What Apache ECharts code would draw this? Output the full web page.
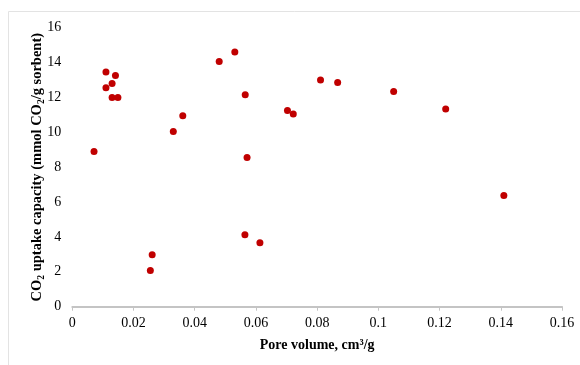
<!DOCTYPE html>
<html>
<head>
<meta charset="utf-8">
<script src="https://cdn.jsdelivr.net/npm/echarts@6/dist/echarts.min.js"></script>
<style>
html,body{margin:0;padding:0;background:#fff;}
#chart{width:580px;height:365px;}
</style>
</head>
<body>
<div id="chart"></div>
<script>
// Pore volume (cm3/g)
var poreVolume = [0.0071, 0.0110, 0.0110, 0.0130, 0.0141, 0.0130, 0.0149, 0.0330, 0.0361, 0.0255, 0.0261,
  0.0480, 0.0531, 0.0565, 0.0703, 0.0722, 0.0571, 0.0811, 0.0867, 0.1050, 0.1220, 0.0564, 0.0613, 0.1410];
// CO2 uptake capacity (mmol CO2/g sorbent)
var uptake = [8.9, 13.45, 12.55, 12.8, 13.25, 12.0, 12.0, 10.05, 10.95, 2.07, 2.98,
  14.05, 14.6, 12.15, 11.25, 11.05, 8.55, 13.0, 12.85, 12.33, 11.33, 4.12, 3.67, 6.38];
var xTicks = [0, 0.02, 0.04, 0.06, 0.08, 0.1, 0.12, 0.14, 0.16];
var yTicks = [0, 2, 4, 6, 8, 10, 12, 14, 16];

var points = poreVolume.map(function (v, i) { return [v, uptake[i]]; });
var font = '"Liberation Serif", "Times New Roman", serif';

var chart = echarts.init(document.getElementById('chart'), null, {renderer: 'canvas'});
chart.setOption({
  backgroundColor: '#ffffff',
  animation: false,
  graphic: [{
    type: 'rect',
    shape: {x: 8.5, y: 11.5, width: 620, height: 400},
    style: {fill: 'none', stroke: '#e3e3e3', lineWidth: 1},
    silent: true
  }],
  grid: {left: 72.3, right: 18, top: 27.6, bottom: 58.3},
  xAxis: {
    type: 'value',
    min: xTicks[0], max: xTicks[xTicks.length - 1], interval: 0.02,
    name: 'Pore volume, cm\u00b3/g',
    nameLocation: 'middle',
    nameGap: 32,
    nameMoveOverlap: false,
    nameTextStyle: {fontFamily: font, fontWeight: 'bold', fontSize: 14, color: '#000'},
    axisLine: {lineStyle: {color: '#c4c4c4', width: 2}},
    axisTick: {show: true, length: 4, lineStyle: {color: '#c4c4c4', width: 1}},
    splitLine: {show: false},
    axisLabel: {fontFamily: font, fontSize: 14, color: '#000', margin: 10,
      formatter: function (v) { return String(Math.round(v * 100) / 100); }}
  },
  yAxis: {
    type: 'value',
    min: yTicks[0], max: yTicks[yTicks.length - 1], interval: 2,
    name: '{m|CO}{s|2}{m| uptake capacity (mmol CO}{s|2}{m|/g sorbent)}',
    nameLocation: 'middle',
    nameRotate: 90,
    nameGap: 26,
    nameMoveOverlap: false,
    nameTextStyle: {
      fontFamily: font, fontWeight: 'bold', fontSize: 14, color: '#000',
      rich: {
        m: {fontFamily: font, fontWeight: 'bold', fontSize: 14.5, color: '#000', lineHeight: 18},
        s: {fontFamily: font, fontWeight: 'bold', fontSize: 9.5, color: '#000', lineHeight: 18, verticalAlign: 'bottom', padding: [6, 0, 0, 0]}
      }
    },
    axisLine: {show: false},
    axisTick: {show: false},
    splitLine: {show: false},
    axisLabel: {fontFamily: font, fontSize: 14, color: '#000', margin: 11}
  },
  series: [{
    type: 'scatter',
    data: points,
    symbol: 'circle',
    symbolSize: 7,
    itemStyle: {color: '#c00000', opacity: 1}
  }]
});
</script>
</body>
</html>
